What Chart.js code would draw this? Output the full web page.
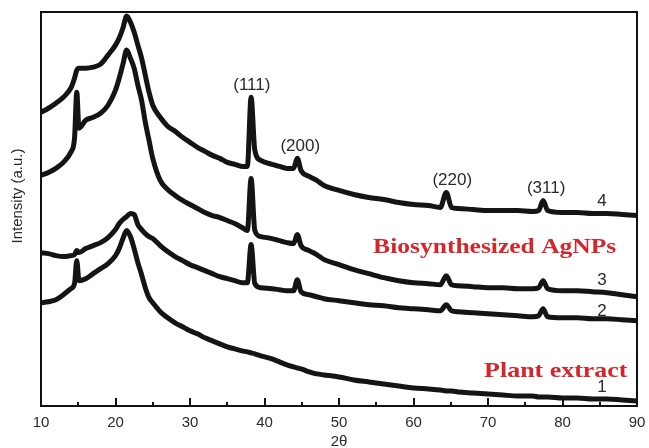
<!DOCTYPE html>
<html>
<head>
<meta charset="utf-8">
<title>XRD patterns</title>
<script src="https://cdn.jsdelivr.net/npm/chart.js@4.4.1/dist/chart.umd.min.js"></script>
<style>
  html, body { margin: 0; padding: 0; background: #fff; }
</style>
</head>
<body>
<canvas id="xrdChart" width="649" height="448"></canvas>
<script>
// 2θ positions (degrees) shared by all four scans
const twoTheta = [10, 11, 12, 13, 14, 14.5, 14.8, 15.1, 16, 17, 18, 19, 20, 20.5, 21, 21.5, 22, 22.5, 23, 23.5,
  24, 24.5, 25, 26, 27, 28, 29, 30, 31, 32, 33, 34, 35, 36, 37, 37.7, 38.2, 38.7, 39.5, 41,
  42, 43, 43.9, 44.4, 44.9, 46, 47, 48, 50, 52, 54, 56, 58, 60, 62, 63.6, 64.4, 65.1, 66, 68,
  70, 72, 74, 76, 76.8, 77.4, 78, 80, 82, 84, 86, 88, 90];

// intensities (a.u., curves stacked with offsets)
const curve1 = [103, 104, 106, 111, 117, 122, 145, 125, 127, 132, 137, 142, 150, 157, 167, 175, 169, 157, 143, 131,
  118, 108, 103, 94, 88, 83, 79, 75, 72, 68, 65, 62, 59, 57, 55, 54, 53, 52, 50, 47,
  44, 41, 39, 38, 37, 34, 32, 31, 29, 26, 24, 22, 20, 18, 17, 16, 15, 15, 14, 13,
  12, 11, 10, 10, 9, 9, 9, 8, 8, 7, 7, 6, 5];
const curve2 = [153, 152, 150, 149, 150, 151, 155, 153, 157, 160, 163, 168, 176, 182, 186, 189, 192, 191, 181, 176,
  172, 169, 167, 160, 154, 149, 145, 141, 138, 135, 132, 129, 127, 125, 123, 123, 161, 122, 118, 117,
  116, 115, 115, 126, 114, 111, 109, 107, 105, 103, 101, 100, 98, 97, 96, 95, 101, 95, 94, 93,
  92, 91, 90, 89, 90, 97, 89, 88, 88, 87, 87, 86, 85];
const curve3 = [230, 233, 237, 243, 253, 267, 313, 277, 285, 288, 292, 300, 315, 327, 341, 355, 347, 337, 320, 305,
  283, 265, 247, 225, 216, 210, 205, 201, 197, 193, 190, 188, 185, 182, 178, 175, 227, 175, 169, 167,
  165, 163, 162, 171, 160, 155, 151, 146, 141, 136, 132, 128, 125, 123, 122, 121, 130, 121, 120, 119,
  118, 118, 117, 117, 118, 125, 117, 115, 115, 114, 113, 111, 109];
const curve4 = [293, 297, 302, 308, 317, 327, 335, 337, 337, 338, 341, 350, 360, 367, 377, 389, 383, 373, 360, 347,
  330, 313, 300, 288, 279, 274, 268, 263, 258, 254, 250, 247, 243, 241, 239, 239, 308, 255, 245, 241,
  239, 237, 237, 247, 235, 229, 225, 220, 215, 211, 208, 206, 203, 201, 200, 198, 213, 198, 197, 196,
  195, 195, 195, 194, 195, 205, 195, 193, 193, 192, 192, 191, 190];

// Ag reflections marked on the top scan
const peakLabels = ['(111)', '(200)', '(220)', '(311)'];
const peakTheta = [38.2, 44.4, 64.4, 77.4];
const peakLabelTheta = [38.3, 44.8, 65.2, 77.8];

const curveNumbers = ['1', '2', '3', '4'];
const series = [curve1, curve2, curve3, curve4];

const toPoints = arr => arr.map((v, i) => ({ x: twoTheta[i], y: v }));
const sans = '"Liberation Sans", Arial, sans-serif';

// stretched bold serif caption
function caption(ctx, text, cx, cy, stretch) {
  ctx.save();
  ctx.translate(cx, cy);
  ctx.scale(stretch, 1);
  ctx.fillText(text, 0, 0);
  ctx.restore();
}

// frame, inward tick marks, axis titles and annotations
const decorations = {
  id: 'decorations',
  afterDraw(chart) {
    const { ctx, chartArea: a, scales: { x, y } } = chart;
    ctx.save();
    ctx.strokeStyle = '#111';
    ctx.lineWidth = 2;
    ctx.strokeRect(a.left, a.top, a.right - a.left, a.bottom - a.top);

    for (let t = 15; t < 90; t += 5) {
      const px = Math.round(x.getPixelForValue(t));
      const len = t % 10 === 0 ? 8 : 4;
      ctx.beginPath();
      ctx.moveTo(px, a.bottom);
      ctx.lineTo(px, a.bottom - len);
      ctx.stroke();
    }

    ctx.fillStyle = '#2a2a2a';
    ctx.textAlign = 'center';
    ctx.textBaseline = 'middle';

    // axis titles
    ctx.font = '15px ' + sans;
    ctx.fillText('2θ', (a.left + a.right) / 2, 442);
    ctx.save();
    ctx.translate(18, 196);
    ctx.rotate(-Math.PI / 2);
    ctx.fillText('Intensity (a.u.)', 0, 0);
    ctx.restore();

    ctx.font = '17px ' + sans;
    peakLabels.forEach((lab, i) => {
      const idx = twoTheta.indexOf(peakTheta[i]);
      const py = y.getPixelForValue(curve4[idx]) - 12;
      ctx.fillText(lab, x.getPixelForValue(peakLabelTheta[i]), py);
    });

    const numOffset = [12, 7, 12, 12];
    const at = twoTheta.indexOf(86);
    curveNumbers.forEach((n, i) => {
      const py = y.getPixelForValue(series[i][at]) - numOffset[i];
      ctx.fillText(n, x.getPixelForValue(85.3), py);
    });

    ctx.fillStyle = '#d7262b';
    ctx.font = 'bold 22px "Liberation Serif", "Times New Roman", serif';
    caption(ctx, 'Biosynthesized AgNPs', x.getPixelForValue(70.9), y.getPixelForValue(158), 1.16);
    caption(ctx, 'Plant extract', x.getPixelForValue(79.1), y.getPixelForValue(35), 1.18);
    ctx.restore();
  }
};

new Chart(document.getElementById('xrdChart'), {
  type: 'line',
  data: {
    datasets: series.map((s, i) => ({
      label: curveNumbers[i],
      data: toPoints(s),
      borderColor: '#141414',
      borderWidth: 5,
      pointRadius: 0,
      cubicInterpolationMode: 'monotone',
      fill: false
    }))
  },
  options: {
    responsive: false,
    animation: false,
    layout: { padding: { top: 12, right: 12, left: 41, bottom: 8 } },
    plugins: { legend: { display: false }, tooltip: { enabled: false } },
    scales: {
      x: {
        type: 'linear',
        min: 10,
        max: 90,
        grid: { display: false, drawTicks: false },
        border: { display: false },
        afterFit: scale => { scale.paddingLeft = 0; scale.paddingRight = 0; },
        ticks: {
          stepSize: 5,
          autoSkip: false,
          maxRotation: 0,
          padding: 8,
          color: '#2a2a2a',
          font: { family: sans, size: 15 },
          callback: v => (v % 10 === 0 ? v : '')
        }
      },
      y: {
        min: 0,
        max: 393,
        grid: { display: false, drawTicks: false },
        border: { display: false },
        ticks: { display: false }
      }
    }
  },
  plugins: [decorations]
});
</script>
</body>
</html>
